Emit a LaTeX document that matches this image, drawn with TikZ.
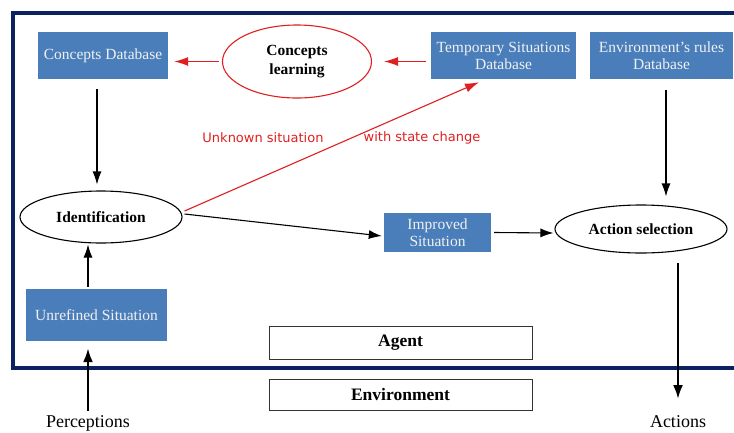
\documentclass[tikz,border=0pt]{standalone}
\usepackage{fontspec}
\setmainfont{Liberation Serif}
\newfontfamily\labelfont{DejaVu Sans}
\usetikzlibrary{arrows.meta,shapes.geometric}
\definecolor{navy}{HTML}{0B2160}
\definecolor{boxblue}{HTML}{4A7EBB}
\definecolor{redline}{HTML}{E02020}
\tikzset{
  bluebox/.style={fill=boxblue, text=white!94!black, inner sep=0pt, align=center, font=\fontsize{15.5}{17}\selectfont},
  ell/.style={ellipse, draw=black, line width=1.1pt, inner sep=0pt, font=\bfseries\fontsize{15.5}{19}\selectfont, align=center},
  wbox/.style={draw=black!80, line width=1pt, inner sep=0pt, font=\bfseries\fontsize{17.5}{19}\selectfont},
  arr/.style={-{Latex[length=13pt,width=9pt]}, line width=1.1pt},
  thickarr/.style={-{Latex[length=14pt,width=10pt]}, line width=2.4pt},
  redarr/.style={-{Latex[length=14pt,width=9pt]}, line width=1.1pt, draw=redline, color=redline},
  redlabel/.style={text=redline, font=\labelfont\fontsize{13}{15}\selectfont, inner sep=0pt},
  plain/.style={font=\fontsize{18}{20}\selectfont, inner sep=0pt}
}
\begin{document}
\begin{tikzpicture}[x=1pt,y=-1pt]
\useasboundingbox (0,0) rectangle (734,432);
\fill[white] (0,0) rectangle (734,432);
\begin{scope}
\clip (0,0) rectangle (734,432);
\draw[navy, line width=4pt] (13,13) rectangle (760,368);
\end{scope}

\node[bluebox, minimum width=130pt, minimum height=47pt] (cdb) at (103,55.5) {Concepts Database};
\node[ell, draw=redline, minimum width=149pt, minimum height=73pt] (cl) at (297,61.5) {Concepts\\learning};
\node[bluebox, minimum width=145pt, minimum height=47pt] (tsd) at (503.5,55.5) {Temporary Situations\\Database};
\node[bluebox, minimum width=143pt, minimum height=47pt] (erd) at (661.5,55.5) {Environment's rules\\Database};
\node[ell, minimum width=162pt, minimum height=52pt] (id) at (101,217) {Identification};
\node[bluebox, minimum width=107pt, minimum height=39pt] (imp) at (437.5,232.5) {Improved\\Situation};
\node[ell, minimum width=172pt, minimum height=48pt] (act) at (641,229) {Action selection};
\node[bluebox, minimum width=141pt, minimum height=52pt] (unr) at (96.5,315) {Unrefined Situation};
\node[wbox, minimum width=263pt, minimum height=33pt] (agent) at (400.5,342.5) {Agent};
\node[wbox, minimum width=263pt, minimum height=31pt] (env) at (400.5,394.5) {Environment};
\node[plain, anchor=base] (perc) at (88,427) {Perceptions};
\node[plain, anchor=base] (acts) at (678,427) {Actions};
\node[redlabel] (unk) at (263,138) {Unknown situation};
\node[redlabel] (wsc) at (422,138) {with state change};
\coordinate (actstart) at (678,263);

\draw[redarr] ([xshift=-3pt]cl.west) -- ([xshift=6pt]cdb.east |- cl.west);
\draw[redarr] ([xshift=-5pt]tsd.west |- cl.east) -- ([xshift=12pt]cl.east);
\draw[redarr] ([xshift=2pt,yshift=6pt]id.east) -- ([xshift=-24.5pt,yshift=-3pt]tsd.south);
\draw[arr] ([xshift=-6pt,yshift=-10pt]cdb.south) -- ([xshift=-4pt,yshift=6pt]id.north);
\draw[arr] ([xshift=4.5pt,yshift=-11pt]erd.south) -- ([xshift=25pt,yshift=8pt]act.north);
\draw[arr] ([xshift=2pt,yshift=3pt]id.east) -- ([xshift=-2pt,yshift=-3.5pt]imp.west);
\draw[arr] ([xshift=3pt]imp.east) -- ([xshift=-1pt,yshift=-4pt]act.west);
\draw[arr] ([xshift=-8.5pt,yshift=2pt]unr.north) -- ([xshift=-13pt,yshift=-1pt]id.south);
\draw[thickarr] ([yshift=16pt]perc.base) -- ([xshift=-8.5pt,yshift=-7pt]unr.south);
\draw[thickarr] (actstart) -- ([yshift=28pt]acts.base);
\end{tikzpicture}
\end{document}
